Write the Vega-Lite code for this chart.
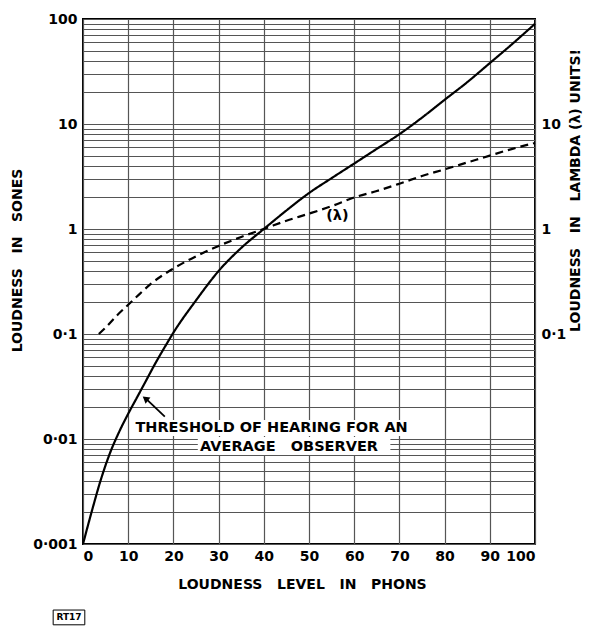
{
  "$schema": "https://vega.github.io/schema/vega-lite/v6.json",
  "width": 452,
  "height": 525,
  "autosize": {"type": "none"},
  "padding": {"left": 83, "top": 19, "right": 54, "bottom": 82},
  "background": "white",
  "config": {
    "view": {"stroke": "black", "strokeWidth": 2},
    "font": "DejaVu Sans",
    "axis": {
      "labelFont": "DejaVu Sans",
      "titleFont": "DejaVu Sans",
      "labelColor": "black",
      "titleColor": "black",
      "labelFontWeight": "bold",
      "titleFontWeight": "bold",
      "labelFontSize": 14,
      "titleFontSize": 14,
      "ticks": false,
      "domain": false,
      "gridColor": "#555555",
      "gridWidth": 1.2,
      "gridOpacity": 1
    }
  },
  "datasets": {
    "curves": [
      {"phon": 0, "loudness": 0.001, "series": "sones"},
      {"phon": 2, "loudness": 0.00209, "series": "sones"},
      {"phon": 4, "loudness": 0.00417, "series": "sones"},
      {"phon": 6, "loudness": 0.0074, "series": "sones"},
      {"phon": 8, "loudness": 0.0117, "series": "sones"},
      {"phon": 10, "loudness": 0.0174, "series": "sones"},
      {"phon": 12, "loudness": 0.0251, "series": "sones"},
      {"phon": 14, "loudness": 0.0363, "series": "sones"},
      {"phon": 16, "loudness": 0.0525, "series": "sones"},
      {"phon": 18, "loudness": 0.074, "series": "sones"},
      {"phon": 20, "loudness": 0.103, "series": "sones"},
      {"phon": 25, "loudness": 0.209, "series": "sones"},
      {"phon": 30, "loudness": 0.398, "series": "sones"},
      {"phon": 35, "loudness": 0.66, "series": "sones"},
      {"phon": 40, "loudness": 1.0, "series": "sones"},
      {"phon": 45, "loudness": 1.5, "series": "sones"},
      {"phon": 50, "loudness": 2.2, "series": "sones"},
      {"phon": 55, "loudness": 3.05, "series": "sones"},
      {"phon": 60, "loudness": 4.2, "series": "sones"},
      {"phon": 65, "loudness": 5.8, "series": "sones"},
      {"phon": 70, "loudness": 8.0, "series": "sones"},
      {"phon": 75, "loudness": 11.5, "series": "sones"},
      {"phon": 80, "loudness": 17, "series": "sones"},
      {"phon": 85, "loudness": 25, "series": "sones"},
      {"phon": 90, "loudness": 38, "series": "sones"},
      {"phon": 95, "loudness": 58, "series": "sones"},
      {"phon": 100, "loudness": 90, "series": "sones"},
      {"phon": 3.5, "loudness": 0.1, "series": "lambda"},
      {"phon": 5, "loudness": 0.115, "series": "lambda"},
      {"phon": 7.5, "loudness": 0.15, "series": "lambda"},
      {"phon": 10, "loudness": 0.19, "series": "lambda"},
      {"phon": 12.5, "loudness": 0.24, "series": "lambda"},
      {"phon": 15, "loudness": 0.3, "series": "lambda"},
      {"phon": 20, "loudness": 0.42, "series": "lambda"},
      {"phon": 25, "loudness": 0.55, "series": "lambda"},
      {"phon": 30, "loudness": 0.69, "series": "lambda"},
      {"phon": 35, "loudness": 0.84, "series": "lambda"},
      {"phon": 40, "loudness": 1.0, "series": "lambda"},
      {"phon": 45, "loudness": 1.2, "series": "lambda"},
      {"phon": 50, "loudness": 1.4, "series": "lambda"},
      {"phon": 55, "loudness": 1.65, "series": "lambda"},
      {"phon": 60, "loudness": 2.0, "series": "lambda"},
      {"phon": 65, "loudness": 2.3, "series": "lambda"},
      {"phon": 70, "loudness": 2.7, "series": "lambda"},
      {"phon": 75, "loudness": 3.2, "series": "lambda"},
      {"phon": 80, "loudness": 3.7, "series": "lambda"},
      {"phon": 85, "loudness": 4.3, "series": "lambda"},
      {"phon": 90, "loudness": 5.0, "series": "lambda"},
      {"phon": 95, "loudness": 5.8, "series": "lambda"},
      {"phon": 100, "loudness": 6.6, "series": "lambda"}
    ],
    "boxes": [
      {"phon": 11.5, "phon2": 71.5, "loudness": 0.0107, "loudness2": 0.0152},
      {"phon": 25.4, "phon2": 68, "loudness": 0.00705, "loudness2": 0.01045}
    ],
    "labels": [
      {"phon": 11.6, "loudness": 0.0127, "label": "THRESHOLD OF HEARING FOR AN"},
      {"phon": 25.9, "loudness": 0.0084, "label": "AVERAGE\u00a0\u00a0\u00a0OBSERVER"},
      {"phon": 53.8, "loudness": 1.33, "label": "(λ)"}
    ],
    "arrow": [
      {"phon": 18.1, "loudness": 0.0163, "phon2": 14.2, "loudness2": 0.0236}
    ],
    "arrowhead": [
      {"phon": 13.8, "loudness": 0.0243}
    ],
    "tag": [
      {"phon": -6.6, "phon2": 0.4, "loudness": 0.00017, "loudness2": 0.000235, "label": "RT17", "mid": -3.1, "midy": 0.0002}
    ]
  },
  "resolve": {"axis": {"y": "independent"}},
  "layer": [
    {
      "data": {"name": "boxes"},
      "mark": {"type": "rect", "fill": "white", "stroke": null},
      "encoding": {
        "x": {
          "field": "phon", "type": "quantitative",
          "scale": {"domain": [0, 100], "nice": false, "zero": false},
          "axis": {
            "values": [0, 10, 20, 30, 40, 50, 60, 70, 80, 90, 100],
            "grid": true,
            "title": "LOUDNESS\u00a0\u00a0\u00a0LEVEL\u00a0\u00a0\u00a0IN\u00a0\u00a0\u00a0PHONS",
            "labelPadding": 5,
            "titlePadding": 14,
            "titleX": 219
          }
        },
        "x2": {"field": "phon2"},
        "y": {
          "field": "loudness", "type": "quantitative",
          "scale": {"type": "log", "domain": [0.001, 100], "nice": false},
          "axis": {
            "orient": "left",
            "values": [0.001, 0.002, 0.003, 0.004, 0.005, 0.006, 0.007, 0.008, 0.009, 0.01, 0.02, 0.03, 0.04, 0.05, 0.06, 0.07, 0.08, 0.09, 0.1, 0.2, 0.3, 0.4, 0.5, 0.6, 0.7, 0.8, 0.9, 1, 2, 3, 4, 5, 6, 7, 8, 9, 10, 20, 30, 40, 50, 60, 70, 80, 90, 100],
            "grid": true,
            "labelExpr": "datum.value == 0.001 ? '0·001' : datum.value == 0.01 ? '0·01' : datum.value == 0.1 ? '0·1' : datum.value == 1 ? '1' : datum.value == 10 ? '10' : datum.value == 100 ? '100' : ''",
            "labelPadding": 6,
            "labelBound": false,
            "labelOverlap": false,
            "title": "LOUDNESS\u00a0\u00a0\u00a0IN\u00a0\u00a0\u00a0SONES",
            "titleX": -66,
            "titleY": 241,
            "titleAngle": 270,
            "titleAlign": "center",
            "titleBaseline": "middle"
          }
        },
        "y2": {"field": "loudness2"}
      }
    },
    {
      "data": {"name": "curves"},
      "mark": {"type": "line", "color": "black", "strokeWidth": 2.2, "interpolate": "monotone"},
      "encoding": {
        "x": {"field": "phon", "type": "quantitative"},
        "y": {
          "field": "loudness", "type": "quantitative",
          "axis": {
            "orient": "right",
            "values": [0.1, 1, 10],
            "grid": false,
            "labelExpr": "datum.value == 0.1 ? '0·1' : datum.value == 1 ? '1' : '10'",
            "labelPadding": 6,
            "title": "LOUDNESS\u00a0\u00a0\u00a0IN\u00a0\u00a0\u00a0LAMBDA\u00a0(λ)\u00a0UNITS!",
            "titleX": 40,
            "titleY": 171,
            "titleAngle": 270,
            "titleAlign": "center",
            "titleBaseline": "middle"
          }
        },
        "detail": {"field": "series"},
        "strokeDash": {
          "field": "series", "type": "nominal",
          "scale": {"domain": ["sones", "lambda"], "range": [[1, 0], [8, 5]]},
          "legend": null
        }
      }
    },
    {
      "data": {"name": "arrow"},
      "mark": {"type": "rule", "color": "black", "strokeWidth": 1.8},
      "encoding": {
        "x": {"field": "phon", "type": "quantitative"},
        "x2": {"field": "phon2"},
        "y": {"field": "loudness", "type": "quantitative", "axis": null},
        "y2": {"field": "loudness2"}
      }
    },
    {
      "data": {"name": "arrowhead"},
      "mark": {"type": "point", "shape": "triangle-up", "filled": true, "color": "black", "size": 60, "angle": 309, "opacity": 1},
      "encoding": {
        "x": {"field": "phon", "type": "quantitative"},
        "y": {"field": "loudness", "type": "quantitative", "axis": null}
      }
    },
    {
      "data": {"name": "labels"},
      "mark": {"type": "text", "align": "left", "baseline": "middle", "font": "DejaVu Sans", "fontWeight": "bold", "fontSize": 14.5, "color": "black"},
      "encoding": {
        "x": {"field": "phon", "type": "quantitative"},
        "y": {"field": "loudness", "type": "quantitative", "axis": null},
        "text": {"field": "label"}
      }
    },
    {
      "data": {"name": "tag"},
      "mark": {"type": "rect", "fill": null, "stroke": "black", "strokeWidth": 1},
      "encoding": {
        "x": {"field": "phon", "type": "quantitative"},
        "x2": {"field": "phon2"},
        "y": {"field": "loudness", "type": "quantitative", "axis": null},
        "y2": {"field": "loudness2"}
      }
    },
    {
      "data": {"name": "tag"},
      "mark": {"type": "text", "align": "center", "baseline": "middle", "font": "DejaVu Sans", "fontSize": 9, "fontWeight": "bold", "color": "black"},
      "encoding": {
        "x": {"field": "mid", "type": "quantitative"},
        "y": {"field": "midy", "type": "quantitative", "axis": null},
        "text": {"field": "label"}
      }
    }
  ]
}
